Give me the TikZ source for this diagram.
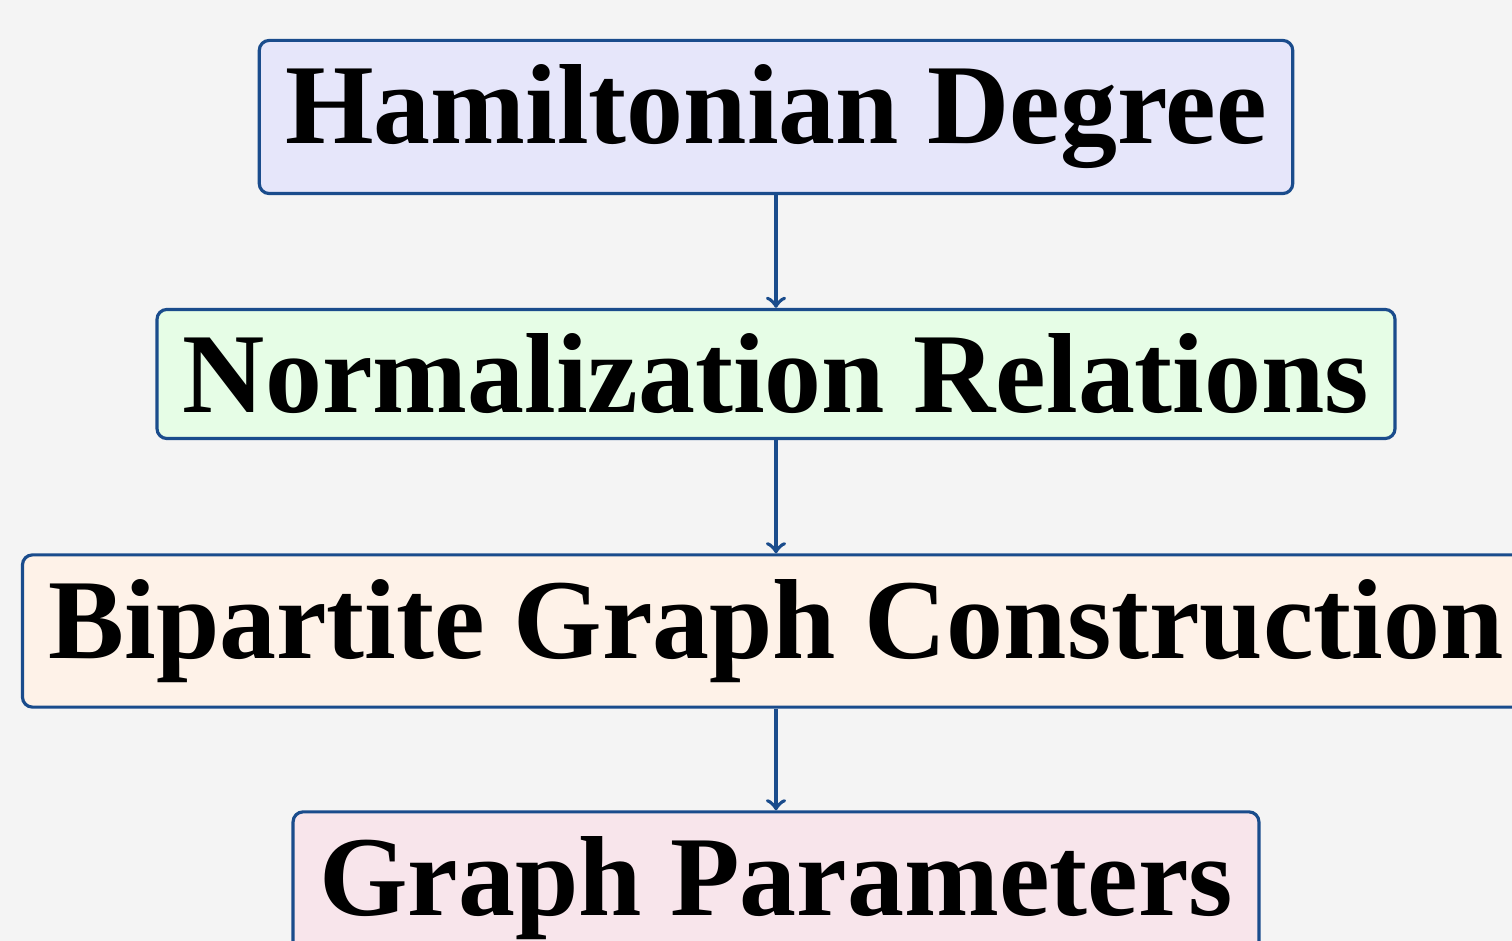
\documentclass[tikz,border=0pt]{standalone}
\usepackage{fontspec}
\setmainfont{Liberation Serif}
\usetikzlibrary{positioning}
\definecolor{PageGray}{HTML}{F4F4F4}
\definecolor{EdgeBlue}{HTML}{1A4C8C}
\definecolor{FillLavender}{HTML}{E6E6FA}
\definecolor{FillMint}{HTML}{E6FDE6}
\definecolor{FillPeach}{HTML}{FEF2E8}
\definecolor{FillRose}{HTML}{F8E5EB}

\begin{document}
\begin{tikzpicture}[every node/.style={font=\fontsize{32.4}{38}\selectfont\bfseries},
  stagebox/.style={draw=EdgeBlue, line width=0.9pt, rounded corners=0.1cm,
    inner xsep=0.26cm, inner ysep=0.245cm},
  node distance=2.57cm, on grid]
  \fill[PageGray] (0,0) rectangle (15.12,9.41);
  \useasboundingbox (0,0) rectangle (15.12,9.41);

  \node[stagebox, fill=FillLavender] (hamdeg) at (7.76,8.24) {Hamiltonian Degree};
  \node[stagebox, fill=FillMint, below=of hamdeg] (normrel) {Normalization Relations};
  \node[stagebox, fill=FillPeach, below=of normrel] (bipgraph) {Bipartite Graph Construction};
  \node[stagebox, fill=FillRose, below=of bipgraph] (graphpar) {Graph Parameters};

  \draw[->, EdgeBlue, line width=1.1pt] (hamdeg) -- (normrel);
  \draw[->, EdgeBlue, line width=1.1pt] (normrel) -- (bipgraph);
  \draw[->, EdgeBlue, line width=1.1pt] (bipgraph) -- (graphpar);
\end{tikzpicture}
\end{document}
